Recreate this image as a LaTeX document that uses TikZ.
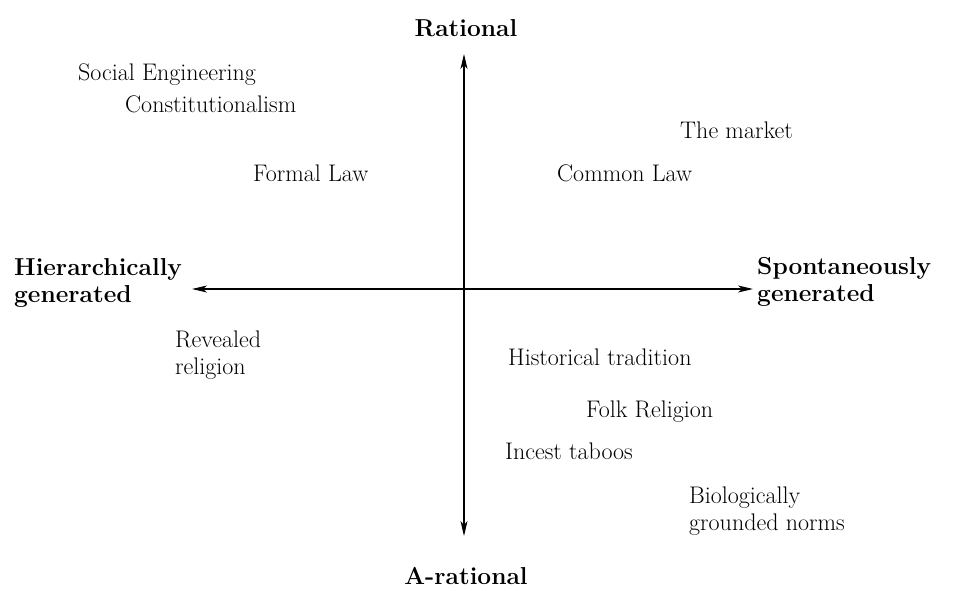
\documentclass[tikz,border=0pt]{standalone}
\usetikzlibrary{arrows.meta}
\tikzset{
  axislabel/.style={font=\bfseries\fontsize{24.5}{27}\selectfont, align=left, inner sep=0pt},
  entry/.style={font=\fontsize{24}{27}\selectfont, align=left, inner sep=0pt, anchor=west},
  axisarrow/.style={line width=1.1pt, -{Stealth[length=15pt,width=7pt,inset=4pt]}}
}
\begin{document}
\begin{tikzpicture}[x=1pt,y=1pt]
  \useasboundingbox (0,0) rectangle (955,591);
  % axis ends and centre
  \coordinate (centre) at (464,302);
  \coordinate (top) at (464,537);
  \coordinate (bottom) at (464,55);
  \coordinate (left) at (192,302);
  \coordinate (right) at (753,302);
  % axes
  \draw[axisarrow] (centre) -- (top);
  \draw[axisarrow] (centre) -- (bottom);
  \draw[axisarrow] (centre) -- (left);
  \draw[axisarrow] (centre) -- (right);
  % axis labels
  \node[axislabel] (rational) at (466,563) {Rational};
  \node[axislabel] (arational) at (466,15) {A-rational};
  \node[axislabel, anchor=west] (hier) at (14,308) {Hierarchically\\generated};
  \node[axislabel, anchor=west] (spont) at (757,309) {Spontaneously\\generated};
  % upper left quadrant
  \node[entry] (soceng) at (78,516) {Social Engineering};
  \node[entry] (const) at (125,487) {Constitutionalism};
  \node[entry] (formal) at (253,418) {Formal Law};
  % upper right quadrant
  \node[entry] (market) at (680,461) {The market};
  \node[entry] (common) at (557,418) {Common Law};
  % lower left quadrant
  \node[entry] (revealed) at (175,236) {Revealed\\religion};
  % lower right quadrant
  \node[entry] (histtrad) at (508,234) {Historical tradition};
  \node[entry] (folk) at (586,179) {Folk Religion};
  \node[entry] (incest) at (505,140) {Incest taboos};
  \node[entry] (bio) at (689,80) {Biologically\\grounded norms};
\end{tikzpicture}
\end{document}
